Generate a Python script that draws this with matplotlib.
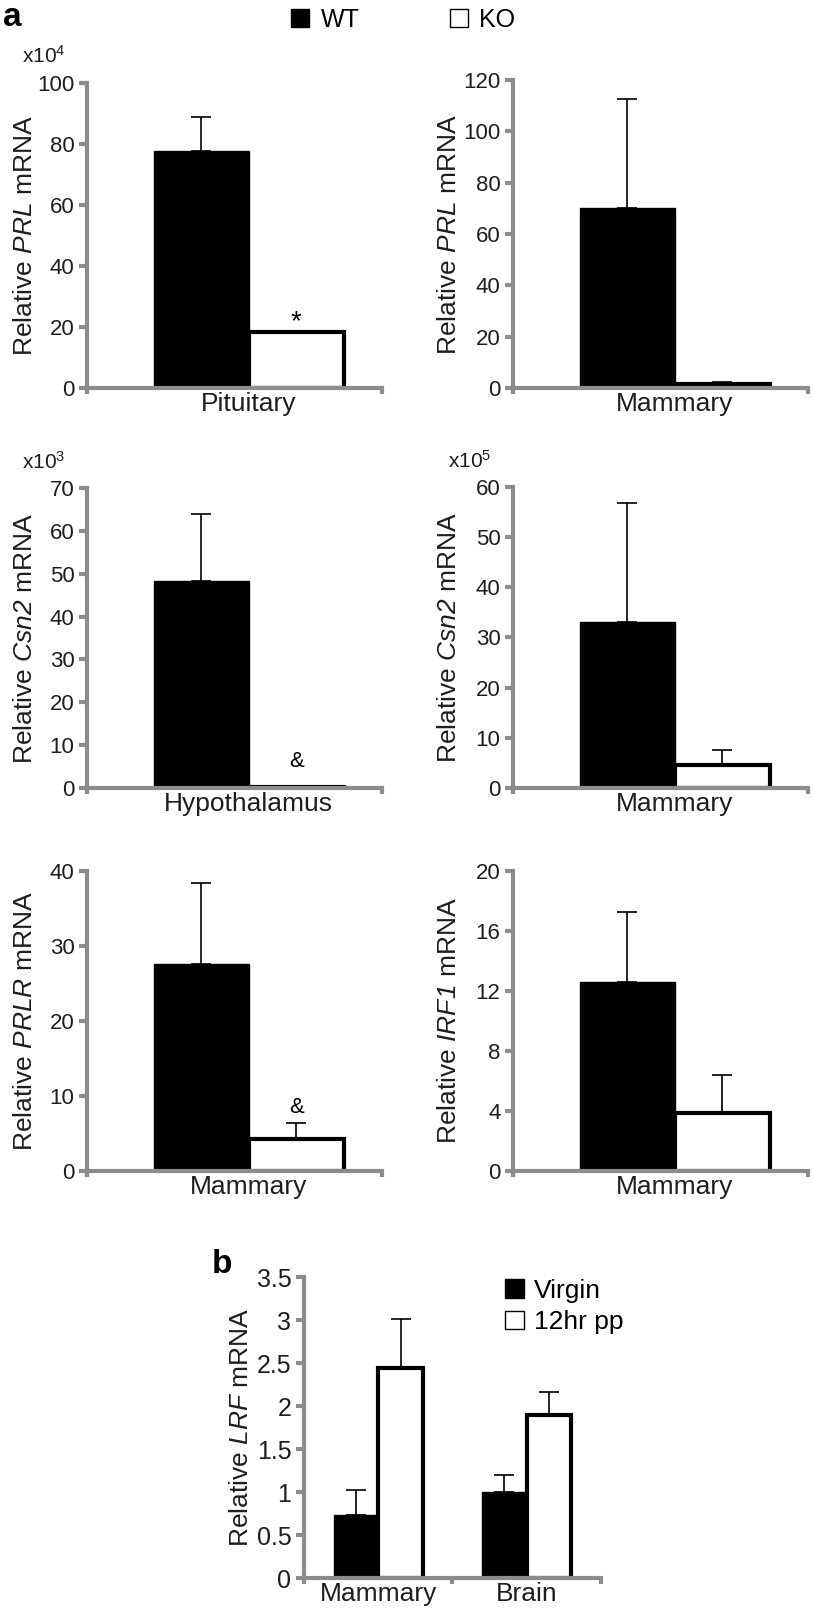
import numpy as np
import matplotlib
matplotlib.use("Agg")
import matplotlib.pyplot as plt
from matplotlib.patches import Patch
from matplotlib.ticker import FuncFormatter

plt.rcParams['font.family'] = ['Liberation Sans', 'DejaVu Sans']
plt.rcParams['mathtext.fontset'] = 'custom'
plt.rcParams['mathtext.rm'] = 'Liberation Sans'
plt.rcParams['mathtext.it'] = 'Liberation Sans:italic'
# sf slot used for fully italic gene names (digits included)
plt.rcParams['mathtext.sf'] = 'Liberation Sans:italic'

# panel a data (WT vs KO)
tissues_a = ["Pituitary", "Mammary", "Hypothalamus", "Mammary", "Mammary", "Mammary"]
genes_a = ["PRL", "PRL", "Csn2", "Csn2", "PRLR", "IRF1"]
wt_mean = [77.7, 70.1, 48.3, 33.0, 27.6, 12.6]
wt_err = [11.2, 42.5, 15.6, 23.8, 10.8, 4.7]
ko_mean = [18.4, 1.7, 0.3, 4.6, 4.3, 3.9]
ko_err = [0.0, 0.8, 0.0, 3.0, 2.1, 2.5]
ymax_a = [100, 120, 70, 60, 40, 20]
ystep_a = [20, 20, 10, 10, 10, 4]
multiplier_a = ["4", None, "3", "5", None, None]
marks_a = ["*", None, "&", None, "&", None]

# panel b data (Virgin vs 12hr pp)
tissues_b = ["Mammary", "Brain"]
virgin_mean = [0.73, 1.0]
virgin_err = [0.29, 0.2]
pp_mean = [2.44, 1.9]
pp_err = [0.57, 0.26]

GRAY = '#8c8c8c'
TXT = '#1e1e1e'

fig = plt.figure(figsize=(8.13, 16.19), dpi=100)

def style(ax, xlim, ymax, ystep, ends, fs_tick):
    ax.set_xlim(xlim)
    ax.set_ylim(0, ymax)
    ax.spines['top'].set_visible(False)
    ax.spines['right'].set_visible(False)
    for s in ['left', 'bottom']:
        ax.spines[s].set_color(GRAY)
        ax.spines[s].set_linewidth(3)
    ax.set_yticks(np.arange(0, ymax + ystep / 2, ystep))
    ax.yaxis.set_major_formatter(FuncFormatter(lambda v, p: '{:g}'.format(round(v, 2))))
    ax.tick_params(axis='y', direction='out', length=6, width=3, color=GRAY,
                   labelsize=fs_tick, pad=3, labelcolor=TXT)
    ax.set_xticks(ends, minor=True)
    ax.tick_params(axis='x', which='minor', direction='out', length=4, width=3, color=GRAY)
    ax.tick_params(axis='x', which='major', length=0, labelsize=19, pad=3, labelcolor=TXT)

# layout of panel a axes (left, bottom, width, height)
rects = [
    [0.107, 0.7603, 0.3629, 0.1884],
    [0.631, 0.7603, 0.3629, 0.1902],
    [0.107, 0.5133, 0.3629, 0.1853],
    [0.631, 0.5133, 0.3629, 0.1859],
    [0.107, 0.2767, 0.3629, 0.1853],
    [0.631, 0.2767, 0.3629, 0.1853],
]
mark_offset = [2, None, 14, None, 7, None]
w = 0.4
xl = (-0.68, 0.56)

for i in range(6):
    ax = fig.add_axes(rects[i])
    ax.bar(-w / 2, wt_mean[i], w, color='black', edgecolor='black', linewidth=1, zorder=2)
    ax.bar(w / 2, ko_mean[i], w, color='white', edgecolor='black', linewidth=3, zorder=2)
    ax.errorbar(-w / 2, wt_mean[i], yerr=[[0], [wt_err[i]]], fmt='none', ecolor='black',
                elinewidth=1.2, capsize=7, capthick=1.2, zorder=3)
    if ko_err[i] > 0:
        ax.errorbar(w / 2, ko_mean[i], yerr=[[0], [ko_err[i]]], fmt='none', ecolor='black',
                    elinewidth=1.2, capsize=7, capthick=1.2, zorder=3)
    style(ax, xl, ymax_a[i], ystep_a[i], list(xl), 16)
    ax.set_xticks([0])
    ax.set_xticklabels([tissues_a[i]])
    ax.set_ylabel('Relative $\\mathsf{' + genes_a[i] + '}$ mRNA', fontsize=19, color=TXT)
    ax.yaxis.set_label_coords(-0.168 if i % 2 == 0 else -0.176, 0.5)
    if multiplier_a[i]:
        ax.text(-0.22, 1.065, 'x10$^{' + multiplier_a[i] + '}$', transform=ax.transAxes,
                fontsize=15, color=TXT, va='baseline', ha='left')
    if marks_a[i]:
        ax.annotate(marks_a[i], (w / 2, ko_mean[i] + ko_err[i]), xytext=(0, mark_offset[i]),
                    textcoords='offset points', ha='center', va='baseline',
                    fontsize=20 if marks_a[i] == '*' else 16, color='black')

fig.legend([Patch(facecolor='black', edgecolor='black'),
            Patch(facecolor='white', edgecolor='black', linewidth=1)],
           ['WT', 'KO'], loc='center', bbox_to_anchor=(0.496, 0.9876), ncol=2,
           frameon=False, fontsize=18, handlelength=0.72, handleheight=0.72,
           handletextpad=0.45, columnspacing=3.6, borderpad=0)
fig.text(0.004, 0.9985, 'a', fontsize=24, fontweight='bold', va='top')

# panel b
axb = fig.add_axes([0.3739, 0.0253, 0.3653, 0.1859])
xb = np.arange(len(tissues_b))
wb = 0.3
axb.bar(xb - wb / 2, virgin_mean, wb, color='black', edgecolor='black', linewidth=1, zorder=2)
axb.bar(xb + wb / 2, pp_mean, wb, color='white', edgecolor='black', linewidth=3, zorder=2)
axb.errorbar(xb - wb / 2, virgin_mean, yerr=[np.zeros(len(xb)), virgin_err], fmt='none',
             ecolor='black', elinewidth=1.2, capsize=7, capthick=1.2, zorder=3)
axb.errorbar(xb + wb / 2, pp_mean, yerr=[np.zeros(len(xb)), pp_err], fmt='none',
             ecolor='black', elinewidth=1.2, capsize=7, capthick=1.2, zorder=3)
style(axb, (-0.5, 1.5), 3.5, 0.5, [-0.5, 0.5, 1.5], 18)
axb.set_xticks(xb)
axb.set_xticklabels(tissues_b)
axb.set_ylabel('Relative $\\mathsf{LRF}$ mRNA', fontsize=19, color=TXT)
axb.yaxis.set_label_coords(-0.172, 0.5)
axb.legend([Patch(facecolor='black', edgecolor='black'),
            Patch(facecolor='white', edgecolor='black', linewidth=1)],
           ['Virgin', '12hr pp'], loc='upper left', bbox_to_anchor=(0.677, 0.995),
           frameon=False, fontsize=19, handlelength=0.7, handleheight=0.7,
           handletextpad=0.4, labelspacing=0.3, borderpad=0, borderaxespad=0)
fig.text(212 / 813, 1 - 1273 / 1619, 'b', fontsize=24, fontweight='bold', va='baseline')

fig.savefig('out.png', dpi=100)
